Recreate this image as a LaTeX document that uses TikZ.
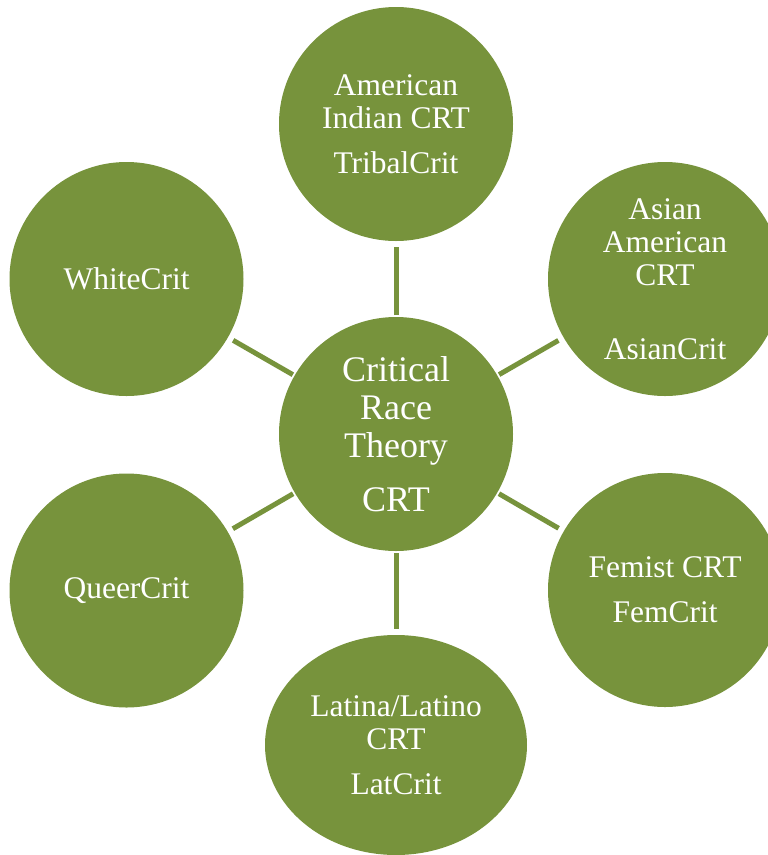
\documentclass[tikz,border=0pt]{standalone}
\usepackage{fontspec}
\setmainfont{Liberation Serif}
\usepackage{tikz}
\usetikzlibrary{shapes.geometric}
\definecolor{crtgreen}{RGB}{119,147,60}

\begin{document}
\begin{tikzpicture}[
    x=1pt, y=-1pt,
    bubble/.style={circle, fill=crtgreen, text=white, align=center, minimum size=234pt, inner sep=0pt, outer sep=0pt, font=\fontsize{31.5}{33}\selectfont},
    hub/.style={bubble, font=\fontsize{36}{38}\selectfont},
    oval/.style={bubble, ellipse, minimum width=262pt, minimum height=220pt},
    link/.style={draw=crtgreen, line width=5pt, shorten <=2pt, shorten >=6pt},
  ]
    \clip (0,0) rectangle (768,855);

    \node[hub]    (crt)    at (396,434) {Critical\\Race\\Theory\\[16pt]CRT};
    \node[bubble] (tribal) at (396,124) {American\\Indian CRT\\[12pt]TribalCrit};
    \node[bubble] (asian)  at (665,279) {Asian\\American\\CRT\\[41pt]AsianCrit};
    \node[bubble] (fem)    at (665,590) {Femist CRT\\[12pt]FemCrit};
    \node[oval]   (lat)    at (396,745) {Latina/Latino\\CRT\\[12pt]LatCrit};
    \node[bubble] (queer)  at (126.5,590.5) {QueerCrit};
    \node[bubble] (white)  at (126.5,279) {WhiteCrit};

    \draw[link] (crt) -- (tribal);
    \draw[link] (crt) -- (asian);
    \draw[link] (crt) -- (fem);
    \draw[link] (crt) -- (lat);
    \draw[link] (crt) -- (queer);
    \draw[link] (crt) -- (white);
  \end{tikzpicture}
\end{document}
